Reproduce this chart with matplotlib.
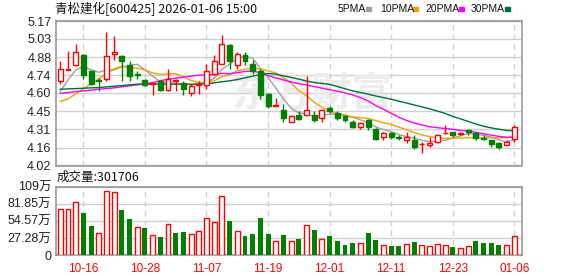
import numpy as np
import matplotlib
matplotlib.use("Agg")
import matplotlib.pyplot as plt
from matplotlib.patches import Rectangle

# ---- data ----
dates = ["10-13", "10-14", "10-15", "10-16", "10-17", "10-20", "10-21", "10-22", "10-23", "10-24",
         "10-27", "10-28", "10-29", "10-30", "10-31", "11-03", "11-04", "11-05", "11-06", "11-07",
         "11-10", "11-11", "11-12", "11-13", "11-14", "11-17", "11-18", "11-19", "11-20", "11-21",
         "11-24", "11-25", "11-26", "11-27", "11-28", "12-01", "12-02", "12-03", "12-04", "12-05",
         "12-08", "12-09", "12-10", "12-11", "12-12", "12-15", "12-16", "12-17", "12-18", "12-19",
         "12-22", "12-23", "12-24", "12-25", "12-26", "12-29", "12-30", "12-31", "01-05", "01-06"]

opens = [4.69, 4.78, 4.82, 4.90, 4.77, 4.70, 4.71, 4.91, 4.89, 4.82,
         4.75, 4.70, 4.67, 4.69, 4.62, 4.69, 4.68, 4.60, 4.66, 4.66,
         4.75, 4.83, 4.98, 4.82, 4.90, 4.83, 4.77, 4.59, 4.49, 4.46,
         4.37, 4.42, 4.42, 4.42, 4.40, 4.48, 4.44, 4.41, 4.37, 4.33,
         4.38, 4.31, 4.25, 4.28, 4.25, 4.22, 4.22, 4.19, 4.18, 4.21,
         4.28, 4.29, 4.27, 4.30, 4.28, 4.24, 4.22, 4.20, 4.18, 4.23]
closes = [4.79, 4.79, 4.92, 4.74, 4.67, 4.69, 4.89, 4.92, 4.85, 4.73,
          4.74, 4.66, 4.68, 4.62, 4.71, 4.70, 4.63, 4.65, 4.67, 4.77,
          4.85, 4.99, 4.85, 4.91, 4.85, 4.77, 4.58, 4.49, 4.50, 4.40,
          4.41, 4.39, 4.46, 4.38, 4.46, 4.45, 4.40, 4.38, 4.33, 4.36,
          4.33, 4.23, 4.28, 4.25, 4.24, 4.25, 4.17, 4.19, 4.20, 4.26,
          4.28, 4.26, 4.28, 4.29, 4.24, 4.23, 4.19, 4.17, 4.21, 4.33]
highs = [4.85, 4.93, 4.99, 4.91, 4.77, 4.72, 5.08, 5.05, 4.90, 4.85,
         4.77, 4.71, 4.68, 4.70, 4.79, 4.71, 4.69, 4.67, 4.69, 4.83,
         4.90, 5.06, 4.99, 4.92, 4.92, 4.86, 4.79, 4.60, 4.56, 4.51,
         4.42, 4.45, 4.73, 4.45, 4.47, 4.49, 4.45, 4.42, 4.38, 4.37,
         4.39, 4.32, 4.29, 4.29, 4.26, 4.29, 4.26, 4.21, 4.25, 4.27,
         4.34, 4.29, 4.29, 4.31, 4.29, 4.26, 4.22, 4.21, 4.22, 4.34]
lows = [4.67, 4.78, 4.81, 4.71, 4.66, 4.61, 4.69, 4.86, 4.69, 4.69,
        4.71, 4.65, 4.58, 4.61, 4.61, 4.61, 4.58, 4.57, 4.59, 4.63,
        4.74, 4.83, 4.79, 4.79, 4.82, 4.75, 4.55, 4.48, 4.49, 4.37,
        4.37, 4.38, 4.42, 4.37, 4.37, 4.44, 4.38, 4.37, 4.32, 4.31,
        4.30, 4.22, 4.22, 4.23, 4.22, 4.20, 4.15, 4.12, 4.17, 4.20,
        4.27, 4.25, 4.26, 4.26, 4.22, 4.22, 4.17, 4.15, 4.18, 4.21]
prev_close = 4.70  # close of the day before the window

# volume in 万 shares
volume = [73.3, 73.3, 84.0, 66.9, 46.5, 35.8, 101.7, 100.0, 71.7, 57.2,
          44.4, 42.8, 32.6, 28.4, 50.3, 34.8, 36.4, 34.2, 39.0, 58.9,
          53.5, 93.6, 54.0, 39.0, 30.0, 33.2, 58.9, 33.2, 23.0, 31.6,
          23.0, 25.1, 48.7, 39.6, 26.2, 30.0, 21.9, 16.0, 18.7, 19.8,
          34.8, 23.5, 16.6, 13.9, 13.9, 18.2, 20.3, 16.6, 15.0, 18.2,
          16.6, 12.3, 11.8, 15.0, 21.9, 18.7, 18.7, 15.5, 16.6, 30.1706]

# moving-average values before a full window exists
ma5_head = [4.61, 4.70, 4.78, 4.81]
ma10_head = [4.53, 4.55, 4.59, 4.63, 4.67, 4.71, 4.75, 4.79, 4.81]
ma20_head = [4.595, 4.600, 4.608, 4.614, 4.619, 4.627, 4.632, 4.638, 4.646, 4.654,
             4.662, 4.670, 4.680, 4.694, 4.707, 4.715, 4.723, 4.731, 4.739]
ma30_head = [4.627, 4.630, 4.632, 4.635, 4.638, 4.640, 4.646, 4.651, 4.656, 4.662,
             4.667, 4.667, 4.667, 4.667, 4.667, 4.667, 4.667, 4.667, 4.667, 4.670,
             4.678, 4.686, 4.694, 4.704, 4.718, 4.731, 4.744, 4.752, 4.747]

price_ticks = [5.17, 5.03, 4.88, 4.74, 4.60, 4.45, 4.31, 4.16, 4.02]
vol_ticks = [0, 27.285, 54.57, 81.855, 109.14]
vol_labels = ["0", "27.28万", "54.57万", "81.85万", "109万"]

ma_specs = [("5PMA", 5, ma5_head, "#a0a0a0"),
            ("10PMA", 10, ma10_head, "#f0a000"),
            ("20PMA", 20, ma20_head, "#ff00ff"),
            ("30PMA", 30, ma30_head, "#006e3a")]

RED, GREEN = "#ff0000", "#008000"
GRID = "#d0d0d0"
SPINE = "#909090"
W, H = 578, 276


def moving_avg(n, head):
    out = list(head)
    for i in range(n - 1, len(closes)):
        out.append(np.mean(closes[i - n + 1:i + 1]))
    return out


def style_axes(ax, ylim, yticks, ylabels):
    ax.set_xlim(-0.62, 60.0)
    ax.set_ylim(*ylim)
    ax.set_yticks(yticks)
    ax.set_yticklabels(ylabels, family=["Liberation Sans", "Noto Sans CJK SC"],
                       fontsize=9, color="#222222")
    for y in yticks:
        ax.axhline(y, color=GRID, lw=1, zorder=0)
    for i in range(3, len(dates), 8):
        ax.axvline(i, color=GRID, lw=1, ls=(0, (4, 3)), zorder=0)
    for s in ax.spines.values():
        s.set_color(SPINE)
        s.set_linewidth(1.1)
    ax.tick_params(length=0, pad=3)


fig = plt.figure(figsize=(W / 100, H / 100), dpi=100)
x0, x1 = 55.5, 522
ax = fig.add_axes([x0 / W, 1 - 165.5 / H, (x1 - x0) / W, (165.5 - 21) / H])
axv = fig.add_axes([x0 / W, 1 - 255 / H, (x1 - x0) / W, (255 - 186.7) / H])

# ---- candles ----
bw = 0.64
x = np.arange(len(dates))
for i in x:
    o, c, h, l = opens[i], closes[i], highs[i], lows[i]
    lo, hi = min(o, c), max(o, c)
    if c >= o:
        ax.vlines(i, hi, h, color=RED, lw=1, zorder=3)
        ax.vlines(i, l, lo, color=RED, lw=1, zorder=3)
        ax.add_patch(Rectangle((i - bw / 2, lo), bw, hi - lo, facecolor="white",
                               edgecolor=RED, lw=1, zorder=4))
    else:
        ax.vlines(i, l, h, color=GREEN, lw=1, zorder=3)
        ax.add_patch(Rectangle((i - bw / 2, lo), bw, hi - lo, facecolor=GREEN,
                               edgecolor=GREEN, lw=1, zorder=4))

for name, n, head, col in ma_specs:
    ax.plot(x, moving_avg(n, head), color=col, lw=1, zorder=2)

ax.set_xticks([])
style_axes(ax, (4.02, 5.17), price_ticks, [f"{v:.2f}" for v in price_ticks])
ax.text(0.55, 0.49, "东方财富", transform=ax.transAxes, fontsize=29, weight="bold",
        color="#ececec", ha="center", va="center", family=["Noto Sans CJK SC"], zorder=1)

# ---- volume ----
prev = [prev_close] + closes[:-1]
for i in x:
    if closes[i] >= prev[i]:
        axv.bar(i, volume[i], width=bw, facecolor="white", edgecolor=RED, lw=1, zorder=3)
    else:
        axv.bar(i, volume[i], width=bw, color=GREEN, zorder=3)
style_axes(axv, (0, 109.14), vol_ticks, vol_labels)
tick_idx = list(range(3, len(dates), 8))
axv.set_xticks(tick_idx)
axv.set_xticklabels([dates[i] for i in tick_idx], color=RED, fontsize=8.5,
                    family="Liberation Sans")
axv.tick_params(axis="x", pad=6)

# ---- header texts ----
fig.text(55 / W, 1 - 9 / H, "青松建化[600425] 2026-01-06 15:00", fontsize=9,
         family=["Noto Sans CJK SC", "DejaVu Sans"], va="center", color="#111111")
fig.text(57 / W, 1 - 177 / H, f"成交量:{int(round(volume[-1] * 10000))}", fontsize=9,
         family=["Noto Sans CJK SC", "DejaVu Sans"], va="center", color="#111111")

leg_pos = [(338, 366), (380, 413), (425, 459), (471, 505)]
for (name, n, head, col), (tx, sx) in zip(ma_specs, leg_pos):
    fig.text(tx / W, 1 - 9 / H, name, fontsize=7.5, family="Liberation Sans",
             va="center", color="#111111")
    fig.patches.append(Rectangle((sx / W, 1 - 11 / H), 5 / W, 4 / H, color=col,
                                 transform=fig.transFigure, figure=fig))

fig.savefig("out.png", dpi=100)
